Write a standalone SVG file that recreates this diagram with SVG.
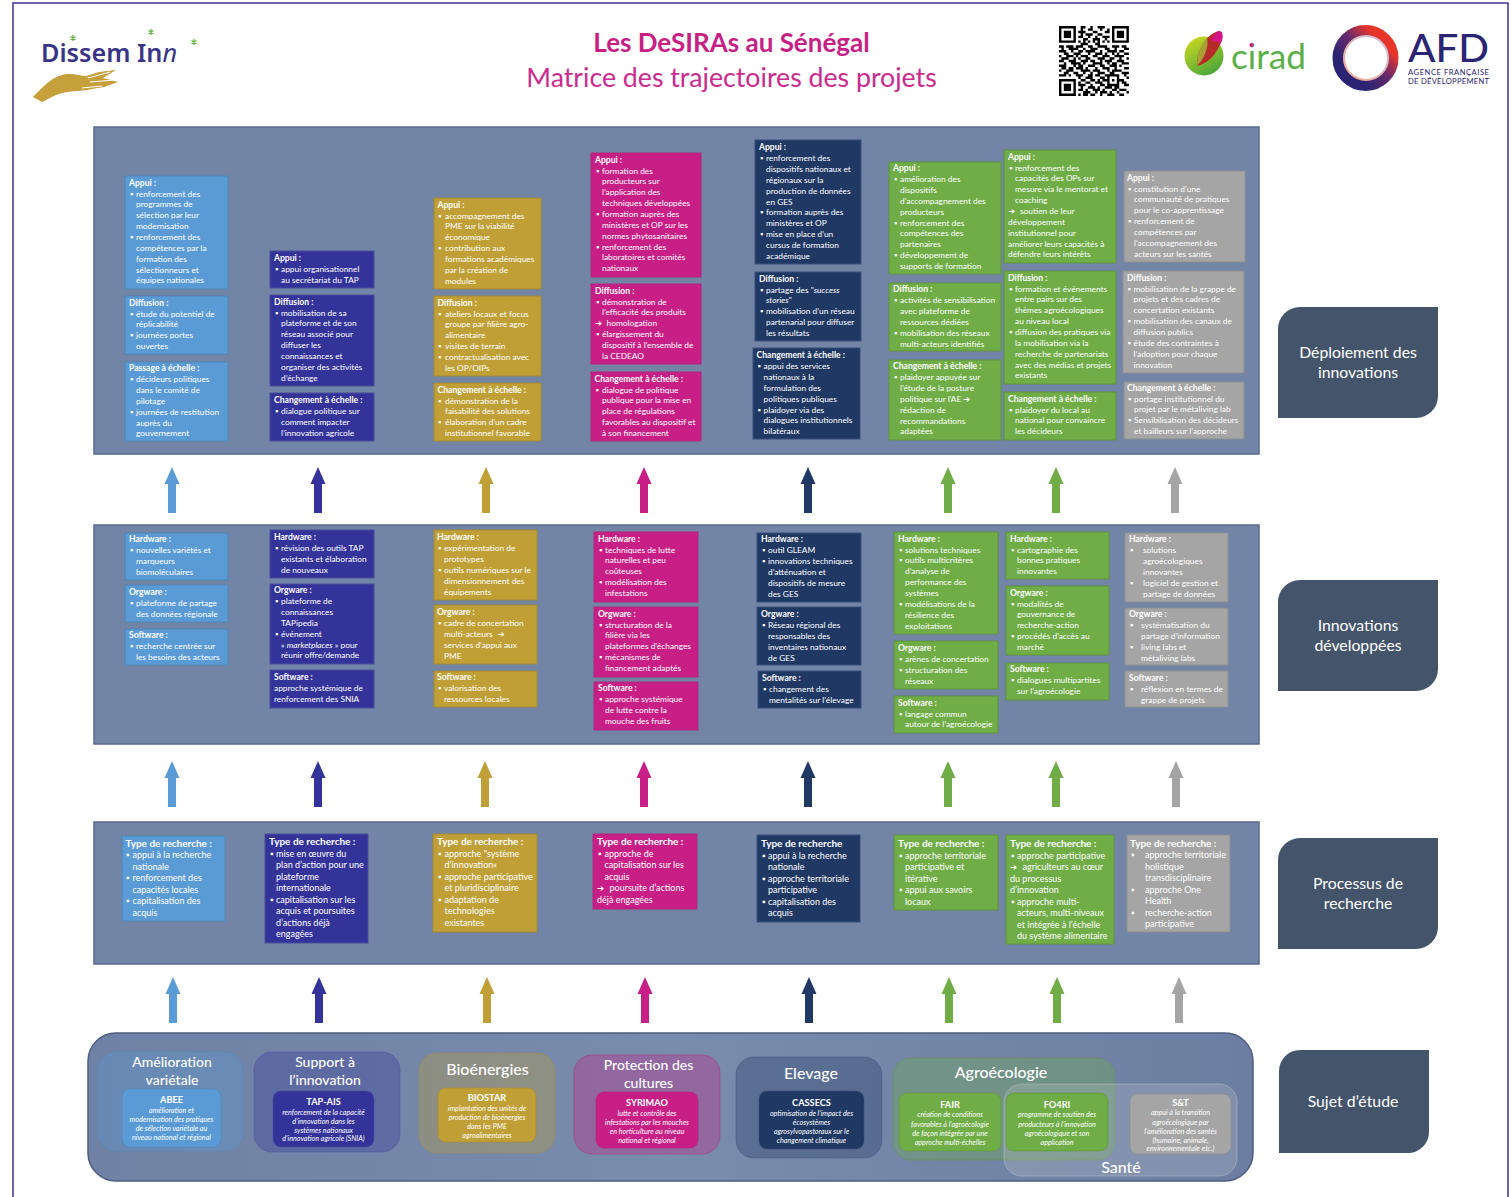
<svg xmlns="http://www.w3.org/2000/svg" width="1511" height="1197" viewBox="0 0 1511 1197">
<style>
text{font-family:Lato,"DejaVu Sans",sans-serif;fill:#fff;font-size:8.35px}
#row-deploiement text,#row-innovations text,#row-recherche text{transform:translateY(-.7px)}
.h{font-weight:700;font-size:8.6px}
.i{font-style:italic}
.a{font-family:"DejaVu Sans",sans-serif;font-weight:700;font-size:8.5px}
.r3 text{font-size:9px}
.r3 .h{font-size:10px}
.c1{fill:#5b9bd5;stroke:#4f86b8}
.c2{fill:#333399;stroke:#4a4f9a}
.c3{fill:#bf9f36;stroke:#a38a35}
.c4{fill:#c71f85;stroke:#b0267f}
.c5{fill:#1f3864;stroke:#3a4f7c}
.c6{fill:#70ad47;stroke:#5f9440}
.c8{fill:#a5a5a5;stroke:#8f8f8f}
.panel{fill:#7385a7;stroke:#5a6a8c;stroke-width:1.5}
.grp{fill-opacity:.33;stroke-opacity:.45}
.inner{stroke-opacity:.6}
.ttl{font-size:14px;text-anchor:middle;font-weight:500}
.big{font-size:16px}
.nm{font-size:9.2px;font-weight:700;text-anchor:middle}
.de{font-size:7.2px;font-style:italic;text-anchor:middle}
.lab{fill:#44546a}
.labt{font-size:15.8px;text-anchor:middle}
</style>
<defs>
<path id="up" d="M0 0L7.5 17H4V46H-4V17H-7.5Z"/>
<linearGradient id="bot" x1="0" x2="1" y1="0" y2="0"><stop offset="0" stop-color="#6f81a4"/><stop offset=".5" stop-color="#7a8cad"/><stop offset="1" stop-color="#6c7fa2"/></linearGradient>
<linearGradient id="ring" x1="0" y1="1" x2="1" y2="0"><stop offset=".25" stop-color="#2a2472"/><stop offset=".55" stop-color="#6a2a6c"/><stop offset=".8" stop-color="#e8352a"/></linearGradient>
<linearGradient id="ring2" x1="1" y1="0" x2="0" y2="1"><stop offset="0" stop-color="#c9c5e4"/><stop offset="1" stop-color="#f6a58c"/></linearGradient>
<linearGradient id="cir" x1="0" y1="0" x2=".6" y2="1"><stop offset="0" stop-color="#d8dd1c"/><stop offset="1" stop-color="#4ea83a"/></linearGradient>
<g id="star"><path d="M0-3V3M-2.6-1.500L2.600 1.500M-2.600 1.500L2.600-1.500" stroke="#62b33f" stroke-width="1.300" fill="none"/></g>
</defs>

<rect x="13" y="3" width="1495" height="1210" fill="#fff" stroke="#3b3392" stroke-width="1.5"/>

<g id="logo-dissem">
<text x="41" y="62" style="font-family:'Noto Sans',sans-serif;font-size:25px;font-weight:600;fill:#3a3486" textLength="136" lengthAdjust="spacingAndGlyphs">Dissem In<tspan style="font-style:italic;font-family:'Noto Sans',sans-serif;font-size:25px;font-weight:400;fill:#3a3486">n</tspan></text>
<use href="#star" x="73" y="38"/><use href="#star" x="151" y="32"/><use href="#star" x="194" y="42"/>
<path d="M33 97C42 88 50 78 62 75C72 72 80 76 86 76L99 72L116 70L103 78L118 82L104 87L92 89C78 92 68 90 56 95L42 102Z" fill="#c5a03b"/>
<path d="M90 82L114 80M88 78L110 72M82 88L102 86" stroke="#fff" stroke-width="1" fill="none"/>
</g>

<g id="title">
<text x="731.500" y="52" text-anchor="middle" style="font-size:26px;font-weight:700;fill:#c71f85">Les DeSIRAs au Sénégal</text>
<text x="731.500" y="87" text-anchor="middle" style="font-size:26.700px;fill:#cc2a8e">Matrice des trajectoires des projets</text>
</g>

<g id="logo-qr" transform="translate(1059 26) scale(2.41)">
<path fill-rule="evenodd" d="M0 0h7v7h-7zM1 1v5h5v-5zM2 2h3v3h-3zM22 0h7v7h-7zM23 1v5h5v-5zM24 2h3v3h-3zM0 22h7v7h-7zM1 23v5h5v-5zM2 24h3v3h-3z"/>
<path stroke="#000" fill="none" d="M9 .5h2M13 .5h1M16 .5h3M9 1.5h1M12 1.5h2M17 1.5h1M20 1.5h1M8 2.5h3M14 2.5h2M19 2.5h2M9 3.5h1M11 3.5h3M16 3.5h2M8 4.5h2M12 4.5h1M15 4.5h1M18 4.5h3M10 5.5h2M14 5.5h3M19 5.5h1M8 6.5h1M10 6.5h1M12 6.5h1M14 6.5h1M16 6.5h1M18 6.5h1M20 6.5h1M9 7.5h3M15 7.5h2M0 8.5h2M3 8.5h3M7 8.5h3M12 8.5h2M16 8.5h4M22 8.5h3M26 8.5h2M1 9.5h1M4 9.5h4M10 9.5h1M13 9.5h3M19 9.5h2M23 9.5h1M27 9.5h2M0 10.5h3M5 10.5h1M8 10.5h2M11 10.5h4M17 10.5h1M20 10.5h4M25 10.5h2M2 11.5h2M6 11.5h3M12 11.5h1M15 11.5h3M19 11.5h1M22 11.5h1M24 11.5h1M27 11.5h2M0 12.5h1M3 12.5h3M7 12.5h1M9 12.5h3M14 12.5h2M18 12.5h3M23 12.5h4M1 13.5h3M6 13.5h1M8 13.5h1M11 13.5h2M16 13.5h3M21 13.5h2M25 13.5h1M28 13.5h1M0 14.5h2M4 14.5h3M9 14.5h3M13 14.5h2M17 14.5h1M19 14.5h3M24 14.5h3M2 15.5h1M5 15.5h4M10 15.5h1M14 15.5h4M20 15.5h1M22 15.5h2M26 15.5h3M0 16.5h3M6 16.5h1M8 16.5h2M12 16.5h3M17 16.5h2M21 16.5h3M25 16.5h1M1 17.5h2M4 17.5h2M7 17.5h3M11 17.5h1M15 17.5h1M18 17.5h3M23 17.5h1M27 17.5h2M0 18.5h1M3 18.5h3M9 18.5h4M14 18.5h3M20 18.5h1M22 18.5h4M2 19.5h2M6 19.5h2M10 19.5h1M13 19.5h1M16 19.5h3M21 19.5h2M26 19.5h3M0 20.5h3M4 20.5h1M7 20.5h3M12 20.5h2M15 20.5h2M19 20.5h6M27 20.5h1M8 21.5h1M11 21.5h3M17 21.5h2M20 21.5h1M24 21.5h1M28 21.5h1M9 22.5h2M13 22.5h2M16 22.5h1M18 22.5h3M22 22.5h1M24 22.5h3M8 23.5h1M11 23.5h2M15 23.5h3M20 23.5h1M24 23.5h1M26 23.5h2M8 24.5h3M13 24.5h1M17 24.5h2M20 24.5h5M27 24.5h2M9 25.5h1M12 25.5h3M16 25.5h1M19 25.5h3M23 25.5h2M8 26.5h2M11 26.5h1M14 26.5h3M18 26.5h1M22 26.5h2M25 26.5h3M10 27.5h3M15 27.5h1M17 27.5h3M21 27.5h1M24 27.5h1M28 27.5h1M8 28.5h1M10 28.5h2M13 28.5h2M17 28.5h1M20 28.5h3M25 28.5h2"/>
</g>

<g id="logo-cirad">
<circle cx="1204" cy="56" r="19.5" fill="url(#cir)"/>
<path d="M1197 66C1197 50 1206 34 1219 31C1224 31 1223 40 1219 47C1214 57 1206 64 1197 66Z" fill="#b62a2a"/>
<path d="M1211 40C1214 35 1217 31.500 1219 31C1224 31 1223 40 1221 43C1218 42 1214 41 1211 40Z" fill="#d5158a"/>
<path d="M1197 66C1197 54 1201 44 1207 38C1209 46 1205 58 1197 66Z" fill="#a9a033"/>
<text x="1231" y="69" style="font-size:34px;fill:#5bb048" textLength="75" lengthAdjust="spacingAndGlyphs">cirad</text>
<circle cx="1251.500" cy="45" r="2" fill="#d5158a"/>
</g>

<g id="logo-afd">
<circle cx="1365.500" cy="58" r="27.500" fill="none" stroke="url(#ring)" stroke-width="11"/>
<circle cx="1366" cy="58" r="22" fill="#fff" stroke="url(#ring2)" stroke-width="2"/>
<text x="1408" y="62" style="font-size:39px;font-weight:500;fill:#2a2472" textLength="81" lengthAdjust="spacingAndGlyphs">AFD</text>
<text x="1408" y="75" style="font-size:7.600px;fill:#2a2472" textLength="81">AGENCE FRANÇAISE</text>
<text x="1408" y="84" style="font-size:7.600px;fill:#2a2472" textLength="81">DE DÉVELOPPEMENT</text>
</g>

<rect id="panel-deploiement" class="panel" x="94" y="127" width="1165" height="327"/>
<rect id="panel-innovations" class="panel" x="94" y="525" width="1165" height="219"/>
<rect id="panel-recherche" class="panel" x="94" y="822" width="1165" height="142"/>

<g id="row-deploiement">
<g id="d1-appui"><rect class="c1" x="125" y="176" width="103" height="113"/><text y="186.500"><tspan x="129" class="h">Appui :</tspan><tspan x="130" dy="10.850">▪</tspan><tspan x="136">renforcement des</tspan><tspan x="136" dy="10.850">programmes de</tspan><tspan x="136" dy="10.850">sélection par leur</tspan><tspan x="136" dy="10.850">modernisation</tspan><tspan x="130" dy="10.850">▪</tspan><tspan x="136">renforcement des</tspan><tspan x="136" dy="10.850">compétences par la</tspan><tspan x="136" dy="10.850">formation des</tspan><tspan x="136" dy="10.850">sélectionneurs et</tspan><tspan x="136" dy="10.850">équipes nationales</tspan></text></g>
<g id="d1-diffusion"><rect class="c1" x="125" y="296" width="103" height="58"/><text y="306.500"><tspan x="129" class="h">Diffusion :</tspan><tspan x="130" dy="10.850">▪</tspan><tspan x="136">étude du potentiel de</tspan><tspan x="136" dy="10.850">réplicabilité</tspan><tspan x="130" dy="10.850">▪</tspan><tspan x="136">journées portes</tspan><tspan x="136" dy="10.850">ouvertes</tspan></text></g>
<g id="d1-echelle"><rect class="c1" x="125" y="362" width="103" height="79"/><text y="372"><tspan x="129" class="h">Passage à échelle :</tspan><tspan x="130" dy="10.850">▪</tspan><tspan x="136">décideurs politiques</tspan><tspan x="136" dy="10.850">dans le comité de</tspan><tspan x="136" dy="10.850">pilotage</tspan><tspan x="130" dy="10.850">▪</tspan><tspan x="136">journées de restitution</tspan><tspan x="136" dy="10.850">auprès du</tspan><tspan x="136" dy="10.850">gouvernement</tspan></text></g>

<g id="d2-appui"><rect class="c2" x="270" y="251" width="104" height="37"/><text y="262"><tspan x="274" class="h">Appui :</tspan><tspan x="275" dy="10.850">▪</tspan><tspan x="281">appui organisationnel</tspan><tspan x="281" dy="10.850">au secrétariat du TAP</tspan></text></g>
<g id="d2-diffusion"><rect class="c2" x="270" y="295" width="104" height="91"/><text y="305.500"><tspan x="274" class="h">Diffusion :</tspan><tspan x="275" dy="10.850">▪</tspan><tspan x="281">mobilisation de sa</tspan><tspan x="281" dy="10.850">plateforme et de son</tspan><tspan x="281" dy="10.850">réseau associé pour</tspan><tspan x="281" dy="10.850">diffuser les</tspan><tspan x="281" dy="10.850">connaissances et</tspan><tspan x="281" dy="10.850">organiser des activités</tspan><tspan x="281" dy="10.850">d’échange</tspan></text></g>
<g id="d2-echelle"><rect class="c2" x="270" y="393" width="104" height="48"/><text y="404"><tspan x="274" class="h">Changement à échelle :</tspan><tspan x="275" dy="10.850">▪</tspan><tspan x="281">dialogue politique sur</tspan><tspan x="281" dy="10.850">comment impacter</tspan><tspan x="281" dy="10.850">l’innovation agricole</tspan></text></g>

<g id="d3-appui"><rect class="c3" x="434" y="198" width="107" height="91"/><text y="208.500"><tspan x="437.500" class="h">Appui :</tspan><tspan x="438" dy="10.850">▪</tspan><tspan x="445">accompagnement des</tspan><tspan x="445" dy="10.850">PME sur la viabilité</tspan><tspan x="445" dy="10.850">économique</tspan><tspan x="438" dy="10.850">▪</tspan><tspan x="445">contribution aux</tspan><tspan x="445" dy="10.850">formations académiques</tspan><tspan x="445" dy="10.850">par la création de</tspan><tspan x="445" dy="10.850">modules</tspan></text></g>
<g id="d3-diffusion"><rect class="c3" x="434" y="296" width="107" height="80"/><text y="306.500"><tspan x="437.500" class="h">Diffusion :</tspan><tspan x="438" dy="10.850">▪</tspan><tspan x="445">ateliers locaux et focus</tspan><tspan x="445" dy="10.850">groupe par filière agro-</tspan><tspan x="445" dy="10.850">alimentaire</tspan><tspan x="438" dy="10.850">▪</tspan><tspan x="445">visites de terrain</tspan><tspan x="438" dy="10.850">▪</tspan><tspan x="445">contractualisation avec</tspan><tspan x="445" dy="10.850">les OP/OIPs</tspan></text></g>
<g id="d3-echelle"><rect class="c3" x="434" y="383" width="107" height="58"/><text y="393.500"><tspan x="437.500" class="h">Changement à échelle :</tspan><tspan x="438" dy="10.850">▪</tspan><tspan x="445">démonstration de la</tspan><tspan x="445" dy="10.850">faisabilité des solutions</tspan><tspan x="438" dy="10.850">▪</tspan><tspan x="445">élaboration d’un cadre</tspan><tspan x="445" dy="10.850">institutionnel favorable</tspan></text></g>

<g id="d4-appui"><rect class="c4" x="591" y="153" width="110" height="124"/><text y="163.500"><tspan x="595" class="h">Appui :</tspan><tspan x="596" dy="10.850">▪</tspan><tspan x="602">formation des</tspan><tspan x="602" dy="10.850">producteurs sur</tspan><tspan x="602" dy="10.850">l’application des</tspan><tspan x="602" dy="10.850">techniques développées</tspan><tspan x="596" dy="10.850">▪</tspan><tspan x="602">formation auprès des</tspan><tspan x="602" dy="10.850">ministères et OP sur les</tspan><tspan x="602" dy="10.850">normes phytosanitaires</tspan><tspan x="596" dy="10.850">▪</tspan><tspan x="602">renforcement des</tspan><tspan x="602" dy="10.850">laboratoires et comités</tspan><tspan x="602" dy="10.850">nationaux</tspan></text></g>
<g id="d4-diffusion"><rect class="c4" x="591" y="284" width="110" height="80"/><text y="294.500"><tspan x="595" class="h">Diffusion :</tspan><tspan x="596" dy="10.850">▪</tspan><tspan x="602">démonstration de</tspan><tspan x="602" dy="10.850">l’efficacité des produits</tspan><tspan x="595" dy="10.850" class="a">➔</tspan><tspan x="606.500">homologation</tspan><tspan x="596" dy="10.850">▪</tspan><tspan x="602">élargissement du</tspan><tspan x="602" dy="10.850">dispositif à l’ensemble de</tspan><tspan x="602" dy="10.850">la CEDEAO</tspan></text></g>
<g id="d4-echelle"><rect class="c4" x="591" y="372" width="110" height="69"/><text y="382.500"><tspan x="594.500" class="h">Changement à échelle :</tspan><tspan x="595.500" dy="10.850">▪</tspan><tspan x="602">dialogue de politique</tspan><tspan x="602" dy="10.850">publique pour la mise en</tspan><tspan x="602" dy="10.850">place de régulations</tspan><tspan x="602" dy="10.850">favorables au dispositif et</tspan><tspan x="602" dy="10.850">à son financement</tspan></text></g>

<g id="d5-appui"><rect class="c5" x="755" y="140" width="106" height="124"/><text y="151"><tspan x="759" class="h">Appui :</tspan><tspan x="760" dy="10.850">▪</tspan><tspan x="766">renforcement des</tspan><tspan x="766" dy="10.850">dispositifs nationaux et</tspan><tspan x="766" dy="10.850">régionaux sur la</tspan><tspan x="766" dy="10.850">production de données</tspan><tspan x="766" dy="10.850">en GES</tspan><tspan x="760" dy="10.850">▪</tspan><tspan x="766">formation auprès des</tspan><tspan x="766" dy="10.850">ministères et OP</tspan><tspan x="760" dy="10.850">▪</tspan><tspan x="766">mise en place d’un</tspan><tspan x="766" dy="10.850">cursus de formation</tspan><tspan x="766" dy="10.850">académique</tspan></text></g>
<g id="d5-diffusion"><rect class="c5" x="755" y="272" width="106" height="69"/><text y="282.500"><tspan x="759" class="h">Diffusion :</tspan><tspan x="760" dy="10.850">▪</tspan><tspan x="766">partage des "</tspan><tspan class="i">success</tspan><tspan x="766" dy="10.850" class="i">stories</tspan><tspan>"</tspan><tspan x="760" dy="10.850">▪</tspan><tspan x="766">mobilisation d’un réseau</tspan><tspan x="766" dy="10.850">partenarial pour diffuser</tspan><tspan x="766" dy="10.850">les résultats</tspan></text></g>
<g id="d5-echelle"><rect class="c5" x="753" y="348" width="107" height="91"/><text y="359"><tspan x="756.500" class="h">Changement à échelle :</tspan><tspan x="757.500" dy="10.850">▪</tspan><tspan x="763.500">appui des services</tspan><tspan x="763.500" dy="10.850">nationaux à la</tspan><tspan x="763.500" dy="10.850">formulation des</tspan><tspan x="763.500" dy="10.850">politiques publiques</tspan><tspan x="757.500" dy="10.850">▪</tspan><tspan x="763.500">plaidoyer via des</tspan><tspan x="763.500" dy="10.850">dialogues institutionnels</tspan><tspan x="763.500" dy="10.850">bilatéraux</tspan></text></g>

<g id="d6-appui"><rect class="c6" x="889" y="162" width="112" height="112"/><text y="172"><tspan x="893" class="h">Appui :</tspan><tspan x="894" dy="10.850">▪</tspan><tspan x="900">amélioration des</tspan><tspan x="900" dy="10.850">dispositifs</tspan><tspan x="900" dy="10.850">d’accompagnement des</tspan><tspan x="900" dy="10.850">producteurs</tspan><tspan x="894" dy="10.850">▪</tspan><tspan x="900">renforcement des</tspan><tspan x="900" dy="10.850">compétences des</tspan><tspan x="900" dy="10.850">partenaires</tspan><tspan x="894" dy="10.850">▪</tspan><tspan x="900">développement de</tspan><tspan x="900" dy="10.850">supports de formation</tspan></text></g>
<g id="d6-diffusion"><rect class="c6" x="889" y="283" width="112" height="68"/><text y="293"><tspan x="893" class="h">Diffusion :</tspan><tspan x="894" dy="10.850">▪</tspan><tspan x="900">activités de sensibilisation</tspan><tspan x="900" dy="10.850">avec plateforme de</tspan><tspan x="900" dy="10.850">ressources dédiées</tspan><tspan x="894" dy="10.850">▪</tspan><tspan x="900">mobilisation des réseaux</tspan><tspan x="900" dy="10.850">multi-acteurs identifiés</tspan></text></g>
<g id="d6-echelle"><rect class="c6" x="889" y="360" width="112" height="80"/><text y="370"><tspan x="893" class="h">Changement à échelle :</tspan><tspan x="894" dy="10.850">▪</tspan><tspan x="900">plaidoyer appuyée sur</tspan><tspan x="900" dy="10.850">l’étude de la posture</tspan><tspan x="900" dy="10.850">politique sur l’AE </tspan><tspan x="963" class="a">➔</tspan><tspan x="900" dy="10.850">rédaction de</tspan><tspan x="900" dy="10.850">recommandations</tspan><tspan x="900" dy="10.850">adaptées</tspan></text></g>

<g id="d7-appui"><rect class="c6" x="1004" y="150" width="112" height="113"/><text y="160.500"><tspan x="1008" class="h">Appui :</tspan><tspan x="1009" dy="10.850">▪</tspan><tspan x="1015">renforcement des</tspan><tspan x="1015" dy="10.850">capacités des OPs sur</tspan><tspan x="1015" dy="10.850">mesure via le mentorat et</tspan><tspan x="1015" dy="10.850">coaching</tspan><tspan x="1008" dy="10.850" class="a">➔</tspan><tspan x="1020">soutien de leur</tspan><tspan x="1008" dy="10.850">développement</tspan><tspan x="1008" dy="10.850">institutionnel pour</tspan><tspan x="1008" dy="10.850">améliorer leurs capacités à</tspan><tspan x="1008" dy="10.850">défendre leurs intérêts</tspan></text></g>
<g id="d7-diffusion"><rect class="c6" x="1004" y="271" width="112" height="113"/><text y="281.500"><tspan x="1008" class="h">Diffusion :</tspan><tspan x="1009" dy="10.850">▪</tspan><tspan x="1015">formation et événements</tspan><tspan x="1015" dy="10.850">entre pairs sur des</tspan><tspan x="1015" dy="10.850">thèmes agroécologiques</tspan><tspan x="1015" dy="10.850">au niveau local</tspan><tspan x="1009" dy="10.850">▪</tspan><tspan x="1015">diffusion des pratiques via</tspan><tspan x="1015" dy="10.850">la mobilisation via la</tspan><tspan x="1015" dy="10.850">recherche de partenariats</tspan><tspan x="1015" dy="10.850">avec des médias et projets</tspan><tspan x="1015" dy="10.850">existants</tspan></text></g>
<g id="d7-echelle"><rect class="c6" x="1004" y="392" width="112" height="48"/><text y="402.500"><tspan x="1008" class="h">Changement à échelle :</tspan><tspan x="1009" dy="10.850">▪</tspan><tspan x="1015">plaidoyer du local au</tspan><tspan x="1015" dy="10.850">national pour convaincre</tspan><tspan x="1015" dy="10.850">les décideurs</tspan></text></g>

<g id="d8-appui"><rect class="c8" x="1124" y="171" width="121" height="91"/><text y="181.500"><tspan x="1127" class="h">Appui :</tspan><tspan x="1128" dy="10.850">▪</tspan><tspan x="1134">constitution d’une</tspan><tspan x="1134" dy="10.850">communauté de pratiques</tspan><tspan x="1134" dy="10.850">pour le co-apprentissage</tspan><tspan x="1128" dy="10.850">▪</tspan><tspan x="1134">renforcement de</tspan><tspan x="1134" dy="10.850">compétences par</tspan><tspan x="1134" dy="10.850">l’accompagnement des</tspan><tspan x="1134" dy="10.850">acteurs sur les santés</tspan></text></g>
<g id="d8-diffusion"><rect class="c8" x="1123" y="271" width="121" height="102"/><text y="281.500"><tspan x="1127" class="h">Diffusion :</tspan><tspan x="1127.500" dy="10.850">▪</tspan><tspan x="1133.500">mobilisation de la grappe de</tspan><tspan x="1133.500" dy="10.850">projets et des cadres de</tspan><tspan x="1133.500" dy="10.850">concertation existants</tspan><tspan x="1127.500" dy="10.850">▪</tspan><tspan x="1133.500">mobilisation des canaux de</tspan><tspan x="1133.500" dy="10.850">diffusion publics</tspan><tspan x="1127.500" dy="10.850">▪</tspan><tspan x="1133.500">étude des contraintes à</tspan><tspan x="1133.500" dy="10.850">l’adoption pour chaque</tspan><tspan x="1133.500" dy="10.850">innovation</tspan></text></g>
<g id="d8-echelle"><rect class="c8" x="1124" y="382" width="120" height="57"/><text y="391.500"><tspan x="1127" class="h">Changement à échelle :</tspan><tspan x="1128" dy="10.850">▪</tspan><tspan x="1134">portage institutionnel du</tspan><tspan x="1134" dy="10.850">projet par le métaliving lab</tspan><tspan x="1128" dy="10.850">▪</tspan><tspan x="1134">Sensibilisation des décideurs</tspan><tspan x="1134" dy="10.850">et bailleurs sur l’approche</tspan></text></g>
</g>

<g id="row-innovations">
<g id="i1-hardware"><rect class="c1" x="125" y="533" width="103" height="47"/><text y="543"><tspan x="129" class="h">Hardware :</tspan><tspan x="130" dy="10.850">▪</tspan><tspan x="136">nouvelles variétés et</tspan><tspan x="136" dy="10.850">marqueurs</tspan><tspan x="136" dy="10.850">biomoléculaires</tspan></text></g>
<g id="i1-orgware"><rect class="c1" x="125" y="585" width="103" height="37"/><text y="596"><tspan x="129" class="h">Orgware :</tspan><tspan x="130" dy="10.850">▪</tspan><tspan x="136">plateforme de partage</tspan><tspan x="136" dy="10.850">des données régionale</tspan></text></g>
<g id="i1-software"><rect class="c1" x="125" y="629" width="103" height="36"/><text y="639"><tspan x="129" class="h">Software :</tspan><tspan x="130" dy="10.850">▪</tspan><tspan x="136">recherche centrée sur</tspan><tspan x="136" dy="10.850">les besoins des acteurs</tspan></text></g>

<g id="i2-hardware"><rect class="c2" x="270" y="530" width="104" height="48"/><text y="541"><tspan x="274" class="h">Hardware :</tspan><tspan x="275" dy="10.850">▪</tspan><tspan x="281">révision des outils TAP</tspan><tspan x="281" dy="10.850">existants et élaboration</tspan><tspan x="281" dy="10.850">de nouveaux</tspan></text></g>
<g id="i2-orgware"><rect class="c2" x="270" y="584" width="104" height="80"/><text y="594"><tspan x="274" class="h">Orgware :</tspan><tspan x="275" dy="10.850">▪</tspan><tspan x="281">plateforme de</tspan><tspan x="281" dy="10.850">connaissances</tspan><tspan x="281" dy="10.850">TAPipedia</tspan><tspan x="275" dy="10.850">▪</tspan><tspan x="281">événement</tspan><tspan x="281" dy="10.850">« </tspan><tspan class="i">marketplaces</tspan><tspan> » pour</tspan><tspan x="281" dy="10.850">réunir offre/demande</tspan></text></g>
<g id="i2-software"><rect class="c2" x="270" y="670" width="104" height="38"/><text y="681"><tspan x="274" class="h">Software :</tspan><tspan x="274" dy="10.850">approche systémique de</tspan><tspan x="274" dy="10.850">renforcement des SNIA</tspan></text></g>

<g id="i3-hardware"><rect class="c3" x="434" y="530" width="103" height="70"/><text y="541"><tspan x="437" class="h">Hardware :</tspan><tspan x="438" dy="10.850">▪</tspan><tspan x="444">expérimentation de</tspan><tspan x="444" dy="10.850">prototypes</tspan><tspan x="438" dy="10.850">▪</tspan><tspan x="444">outils numériques sur le</tspan><tspan x="444" dy="10.850">dimensionnement des</tspan><tspan x="444" dy="10.850">équipements</tspan></text></g>
<g id="i3-orgware"><rect class="c3" x="434" y="605" width="103" height="59"/><text y="616"><tspan x="437" class="h">Orgware :</tspan><tspan x="438" dy="10.850">▪</tspan><tspan x="444">cadre de concertation</tspan><tspan x="444" dy="10.850">multi-acteurs </tspan><tspan x="497.500" class="a">➔</tspan><tspan x="444" dy="10.850">services d’appui aux</tspan><tspan x="444" dy="10.850">PME</tspan></text></g>
<g id="i3-software"><rect class="c3" x="434" y="671" width="103" height="36"/><text y="681"><tspan x="437" class="h">Software :</tspan><tspan x="438" dy="10.850">▪</tspan><tspan x="444">valorisation des</tspan><tspan x="444" dy="10.850">ressources locales</tspan></text></g>

<g id="i4-hardware"><rect class="c4" x="594" y="532" width="104" height="70"/><text y="542.500"><tspan x="598" class="h">Hardware :</tspan><tspan x="599" dy="10.850">▪</tspan><tspan x="605">techniques de lutte</tspan><tspan x="605" dy="10.850">naturelles et peu</tspan><tspan x="605" dy="10.850">coûteuses</tspan><tspan x="599" dy="10.850">▪</tspan><tspan x="605">modélisation des</tspan><tspan x="605" dy="10.850">infestations</tspan></text></g>
<g id="i4-orgware"><rect class="c4" x="594" y="607" width="104" height="70"/><text y="617.500"><tspan x="598" class="h">Orgware :</tspan><tspan x="599" dy="10.850">▪</tspan><tspan x="605">structuration de la</tspan><tspan x="605" dy="10.850">filière via les</tspan><tspan x="605" dy="10.850">plateformes d’échanges</tspan><tspan x="599" dy="10.850">▪</tspan><tspan x="605">mécanismes de</tspan><tspan x="605" dy="10.850">financement adaptés</tspan></text></g>
<g id="i4-software"><rect class="c4" x="594" y="682" width="104" height="48"/><text y="692"><tspan x="598" class="h">Software :</tspan><tspan x="599" dy="10.850">▪</tspan><tspan x="605">approche systémique</tspan><tspan x="605" dy="10.850">de lutte contre la</tspan><tspan x="605" dy="10.850">mouche des fruits</tspan></text></g>

<g id="i5-hardware"><rect class="c5" x="757" y="533" width="104" height="69"/><text y="543"><tspan x="761" class="h">Hardware :</tspan><tspan x="762" dy="10.850">▪</tspan><tspan x="768">outil GLEAM</tspan><tspan x="762" dy="10.850">▪</tspan><tspan x="768">innovations techniques</tspan><tspan x="768" dy="10.850">d’atténuation et</tspan><tspan x="768" dy="10.850">dispositifs de mesure</tspan><tspan x="768" dy="10.850">des GES</tspan></text></g>
<g id="i5-orgware"><rect class="c5" x="757" y="607" width="104" height="58"/><text y="618"><tspan x="761" class="h">Orgware :</tspan><tspan x="762" dy="10.850">▪</tspan><tspan x="768">Réseau régional des</tspan><tspan x="768" dy="10.850">responsables des</tspan><tspan x="768" dy="10.850">inventaires nationaux</tspan><tspan x="768" dy="10.850">de GES</tspan></text></g>
<g id="i5-software"><rect class="c5" x="758" y="671" width="103" height="37"/><text y="682"><tspan x="762" class="h">Software :</tspan><tspan x="763" dy="10.850">▪</tspan><tspan x="769">changement des</tspan><tspan x="769" dy="10.850">mentalités sur l’élevage</tspan></text></g>

<g id="i6-hardware"><rect class="c6" x="894" y="532" width="104" height="102"/><text y="542.500"><tspan x="898" class="h">Hardware :</tspan><tspan x="899" dy="10.850">▪</tspan><tspan x="905">solutions techniques</tspan><tspan x="899" dy="10.850">▪</tspan><tspan x="905">outils multicritères</tspan><tspan x="905" dy="10.850">d’analyse de</tspan><tspan x="905" dy="10.850">performance des</tspan><tspan x="905" dy="10.850">systèmes</tspan><tspan x="899" dy="10.850">▪</tspan><tspan x="905">modélisations de la</tspan><tspan x="905" dy="10.850">résilience des</tspan><tspan x="905" dy="10.850">exploitations</tspan></text></g>
<g id="i6-orgware"><rect class="c6" x="894" y="641" width="104" height="48"/><text y="652"><tspan x="898" class="h">Orgware :</tspan><tspan x="899" dy="10.850">▪</tspan><tspan x="905">arènes de concertation</tspan><tspan x="899" dy="10.850">▪</tspan><tspan x="905">structuration des</tspan><tspan x="905" dy="10.850">réseaux</tspan></text></g>
<g id="i6-software"><rect class="c6" x="894" y="696" width="104" height="37"/><text y="706.500"><tspan x="898" class="h">Software :</tspan><tspan x="899" dy="10.850">▪</tspan><tspan x="905">langage commun</tspan><tspan x="905" dy="10.850">autour de l’agroécologie</tspan></text></g>

<g id="i7-hardware"><rect class="c6" x="1006" y="532" width="103" height="47"/><text y="542.500"><tspan x="1010" class="h">Hardware :</tspan><tspan x="1011" dy="10.850">▪</tspan><tspan x="1017">cartographie des</tspan><tspan x="1017" dy="10.850">bonnes pratiques</tspan><tspan x="1017" dy="10.850">innovantes</tspan></text></g>
<g id="i7-orgware"><rect class="c6" x="1006" y="586" width="103" height="69"/><text y="596.500"><tspan x="1010" class="h">Orgware :</tspan><tspan x="1011" dy="10.850">▪</tspan><tspan x="1017">modalités de</tspan><tspan x="1017" dy="10.850">gouvernance de</tspan><tspan x="1017" dy="10.850">recherche-action</tspan><tspan x="1011" dy="10.850">▪</tspan><tspan x="1017">procédés d’accès au</tspan><tspan x="1017" dy="10.850">marché</tspan></text></g>
<g id="i7-software"><rect class="c6" x="1006" y="663" width="103" height="37"/><text y="673"><tspan x="1010" class="h">Software :</tspan><tspan x="1011" dy="10.850">▪</tspan><tspan x="1017">dialogues multipartites</tspan><tspan x="1017" dy="10.850">sur l’agroécologie</tspan></text></g>

<g id="i8-hardware"><rect class="c8" x="1125" y="533" width="103" height="69"/><text y="543"><tspan x="1129" class="h">Hardware :</tspan><tspan x="1130" dy="10.850">▪</tspan><tspan x="1143">solutions</tspan><tspan x="1143" dy="10.850">agroécologiques</tspan><tspan x="1143" dy="10.850">innovantes</tspan><tspan x="1130" dy="10.850">▪</tspan><tspan x="1143">logiciel de gestion et</tspan><tspan x="1143" dy="10.850">partage de données</tspan></text></g>
<g id="i8-orgware"><rect class="c8" x="1125" y="608" width="103" height="57"/><text y="618"><tspan x="1129" class="h">Orgware :</tspan><tspan x="1130" dy="10.850">▪</tspan><tspan x="1141">systématisation du</tspan><tspan x="1141" dy="10.850">partage d’information</tspan><tspan x="1130" dy="10.850">▪</tspan><tspan x="1141">living labs et</tspan><tspan x="1141" dy="10.850">métaliving labs</tspan></text></g>
<g id="i8-software"><rect class="c8" x="1125" y="671" width="103" height="36"/><text y="682"><tspan x="1129" class="h">Software :</tspan><tspan x="1130" dy="10.850">▪</tspan><tspan x="1141">réflexion en termes de</tspan><tspan x="1141" dy="10.850">grappe de projets</tspan></text></g>
</g>

<g id="row-recherche" class="r3">
<g id="r1"><rect class="c1" x="122" y="836" width="103" height="85"/><text y="847.500"><tspan x="125.500" class="h">Type de recherche :</tspan><tspan x="126" dy="11.500">▪</tspan><tspan x="132.500">appui à la recherche</tspan><tspan x="132.500" dy="11.500">nationale</tspan><tspan x="126" dy="11.500">▪</tspan><tspan x="132.500">renforcement des</tspan><tspan x="132.500" dy="11.500">capacités locales</tspan><tspan x="126" dy="11.500">▪</tspan><tspan x="132.500">capitalisation des</tspan><tspan x="132.500" dy="11.500">acquis</tspan></text></g>
<g id="r2"><rect class="c2" x="265" y="834" width="103" height="109"/><text y="846"><tspan x="269" class="h">Type de recherche :</tspan><tspan x="270" dy="11.500">▪</tspan><tspan x="276">mise en œuvre du</tspan><tspan x="276" dy="11.500">plan d’action pour une</tspan><tspan x="276" dy="11.500">plateforme</tspan><tspan x="276" dy="11.500">internationale</tspan><tspan x="270" dy="11.500">▪</tspan><tspan x="276">capitalisation sur les</tspan><tspan x="276" dy="11.500">acquis et poursuites</tspan><tspan x="276" dy="11.500">d’actions déjà</tspan><tspan x="276" dy="11.500">engagées</tspan></text></g>
<g id="r3"><rect class="c3" x="433" y="834" width="104" height="98"/><text y="846"><tspan x="437" class="h">Type de recherche :</tspan><tspan x="438" dy="11.500">▪</tspan><tspan x="444.500">approche "système</tspan><tspan x="444.500" dy="11.500">d’innovation«</tspan><tspan x="438" dy="11.500">▪</tspan><tspan x="444.500">approche participative</tspan><tspan x="444.500" dy="11.500">et pluridisciplinaire</tspan><tspan x="438" dy="11.500">▪</tspan><tspan x="444.500">adaptation de</tspan><tspan x="444.500" dy="11.500">technologies</tspan><tspan x="444.500" dy="11.500">existantes</tspan></text></g>
<g id="r4"><rect class="c4" x="593" y="834" width="104" height="75"/><text y="846"><tspan x="597" class="h">Type de recherche :</tspan><tspan x="598" dy="11.500">▪</tspan><tspan x="604.500">approche de</tspan><tspan x="604.500" dy="11.500">capitalisation sur les</tspan><tspan x="604.500" dy="11.500">acquis</tspan><tspan x="597" dy="11.500" class="a">➔</tspan><tspan x="609.500">poursuite d’actions</tspan><tspan x="597" dy="11.500">déjà engagées</tspan></text></g>
<g id="r5"><rect class="c5" x="757" y="835" width="103" height="87"/><text y="848"><tspan x="761" class="h">Type de recherche</tspan><tspan x="762" dy="11.500">▪</tspan><tspan x="768">appui à la recherche</tspan><tspan x="768" dy="11.500">nationale</tspan><tspan x="762" dy="11.500">▪</tspan><tspan x="768">approche territoriale</tspan><tspan x="768" dy="11.500">participative</tspan><tspan x="762" dy="11.500">▪</tspan><tspan x="768">capitalisation des</tspan><tspan x="768" dy="11.500">acquis</tspan></text></g>
<g id="r6"><rect class="c6" x="894" y="835" width="104" height="75"/><text y="848"><tspan x="898" class="h">Type de recherche :</tspan><tspan x="899" dy="11.500">▪</tspan><tspan x="905">approche territoriale</tspan><tspan x="905" dy="11.500">participative et</tspan><tspan x="905" dy="11.500">itérative</tspan><tspan x="899" dy="11.500">▪</tspan><tspan x="905">appui aux savoirs</tspan><tspan x="905" dy="11.500">locaux</tspan></text></g>
<g id="r7"><rect class="c6" x="1006" y="835" width="108" height="109"/><text y="848"><tspan x="1010" class="h">Type de recherche :</tspan><tspan x="1011" dy="11.500">▪</tspan><tspan x="1017">approche participative</tspan><tspan x="1010" dy="11.500" class="a">➔</tspan><tspan x="1022.500">agriculteurs au cœur</tspan><tspan x="1010" dy="11.500">du processus</tspan><tspan x="1010" dy="11.500">d’innovation</tspan><tspan x="1011" dy="11.500">▪</tspan><tspan x="1017">approche multi-</tspan><tspan x="1017" dy="11.500">acteurs, multi-niveaux</tspan><tspan x="1017" dy="11.500">et intégrée à l’échelle</tspan><tspan x="1017" dy="11.500">du système alimentaire</tspan></text></g>
<g id="r8"><rect class="c8" x="1127" y="835" width="103" height="97"/><text y="847.500"><tspan x="1130" class="h">Type de recherche :</tspan><tspan x="1131" dy="11.500">▪</tspan><tspan x="1145">approche territoriale</tspan><tspan x="1145" dy="11.500">holistique</tspan><tspan x="1145" dy="11.500">transdisciplinaire</tspan><tspan x="1131" dy="11.500">▪</tspan><tspan x="1145">approche One</tspan><tspan x="1145" dy="11.500">Health</tspan><tspan x="1131" dy="11.500">▪</tspan><tspan x="1145">recherche-action</tspan><tspan x="1145" dy="11.500">participative</tspan></text></g>
</g>

<g id="connectors">
<use href="#up" x="172" y="467" fill="#5b9bd5"/><use href="#up" x="318" y="467" fill="#333399"/><use href="#up" x="486" y="467" fill="#bf9f36"/><use href="#up" x="644" y="467" fill="#c71f85"/><use href="#up" x="808" y="467" fill="#1f3864"/><use href="#up" x="948" y="467" fill="#70ad47"/><use href="#up" x="1056" y="467" fill="#70ad47"/><use href="#up" x="1175" y="467" fill="#a5a5a5"/>
<use href="#up" x="172" y="761" fill="#5b9bd5"/><use href="#up" x="318" y="761" fill="#333399"/><use href="#up" x="485" y="761" fill="#bf9f36"/><use href="#up" x="644" y="761" fill="#c71f85"/><use href="#up" x="808" y="761" fill="#1f3864"/><use href="#up" x="948" y="761" fill="#70ad47"/><use href="#up" x="1056" y="761" fill="#70ad47"/><use href="#up" x="1176" y="761" fill="#a5a5a5"/>
<use href="#up" x="173" y="977" fill="#5b9bd5"/><use href="#up" x="319" y="977" fill="#333399"/><use href="#up" x="487" y="977" fill="#bf9f36"/><use href="#up" x="645" y="977" fill="#c71f85"/><use href="#up" x="809" y="977" fill="#1f3864"/><use href="#up" x="949" y="977" fill="#70ad47"/><use href="#up" x="1057" y="977" fill="#70ad47"/><use href="#up" x="1179" y="977" fill="#a5a5a5"/>
</g>

<g id="row-sujet">
<rect x="88" y="1033" width="1165" height="148" rx="28" fill="url(#bot)" stroke="#4e5e80" stroke-width="1.5"/>

<g id="s-amelioration"><rect class="c1 grp" x="98" y="1052" width="145" height="99" rx="18"/><text class="ttl" x="172" y="1067">Amélioration</text><text class="ttl" x="172" y="1085">variétale</text>
<rect class="c1 inner" x="122" y="1089" width="99" height="58" rx="8"/><text class="nm" x="171.500" y="1103">ABEE</text><text class="de" x="171.500" y="1112.500">amélioration et</text><text class="de" x="171.500" y="1121.500">modernisation des pratiques</text><text class="de" x="171.500" y="1131">de sélection variétale au</text><text class="de" x="171.500" y="1139.500">niveau national et régional</text></g>

<g id="s-support"><rect class="c2 grp" x="254" y="1052" width="146" height="100" rx="18"/><text class="ttl" x="325" y="1067">Support à</text><text class="ttl" x="325" y="1085">l’innovation</text>
<rect class="c2 inner" x="273" y="1091" width="101" height="56" rx="8"/><text class="nm" x="323.500" y="1104.500">TAP-AIS</text><text class="de" x="323.500" y="1114.500">renforcement de la capacité</text><text class="de" x="323.500" y="1123.500">d’innovation dans les</text><text class="de" x="323.500" y="1132.500">systèmes nationaux</text><text class="de" x="323.500" y="1141">d’innovation agricole (SNIA)</text></g>

<g id="s-bioenergies"><rect class="c3 grp" x="419" y="1053" width="136" height="100" rx="18"/><text class="ttl big" x="487.500" y="1075">Bioénergies</text>
<rect class="c3 inner" x="438" y="1088" width="98" height="54" rx="8"/><text class="nm" x="487" y="1100.500">BIOSTAR</text><text class="de" x="487" y="1110.500">implantation des unités de</text><text class="de" x="487" y="1119.500">production de bioénergies</text><text class="de" x="487" y="1128.500">dans les PME</text><text class="de" x="487" y="1137.500">agroalimentaires</text></g>

<g id="s-protection"><rect class="c4 grp" x="574" y="1055" width="146" height="99" rx="18"/><text class="ttl" x="648.500" y="1070">Protection des</text><text class="ttl" x="648.500" y="1088">cultures</text>
<rect class="c4 inner" x="596" y="1092" width="102" height="56" rx="8"/><text class="nm" x="647" y="1105.500">SYRIMAO</text><text class="de" x="647" y="1115.500">lutte et contrôle des</text><text class="de" x="647" y="1124.500">infestations par les mouches</text><text class="de" x="647" y="1134">en horticulture au niveau</text><text class="de" x="647" y="1143">national et régional</text></g>

<g id="s-elevage"><rect class="c5 grp" x="736" y="1057" width="146" height="101" rx="18"/><text class="ttl big" x="811" y="1078.500">Elevage</text>
<rect class="c5 inner" x="759" y="1091" width="105" height="58" rx="8"/><text class="nm" x="811.500" y="1105.500">CASSECS</text><text class="de" x="811.500" y="1115.500">optimisation de l’impact des</text><text class="de" x="811.500" y="1124.500">écosystèmes</text><text class="de" x="811.500" y="1134">agrosylvopastoraux sur le</text><text class="de" x="811.500" y="1143">changement climatique</text></g>

<g id="s-agroecologie"><rect class="c6 grp" x="893" y="1058" width="222" height="102" rx="18"/><text class="ttl big" x="1001" y="1077.500">Agroécologie</text></g>
<g id="s-sante"><rect x="1004" y="1084" width="233" height="92" rx="18" fill="#d9d9d9" fill-opacity=".2" stroke="#d9d9d9" stroke-opacity=".35"/><text class="ttl big" x="1121" y="1172.500">Santé</text></g>

<g id="s-fair"><rect class="c6 inner" x="899" y="1093" width="102" height="58" rx="8"/><text class="nm" x="950" y="1108">FAIR</text><text class="de" x="950" y="1116.500">création de conditions</text><text class="de" x="950" y="1126.500">favorables à l’agroécologie</text><text class="de" x="950" y="1135.500">de façon intégrée par une</text><text class="de" x="950" y="1144.500">approche multi-échelles</text></g>
<g id="s-fo4ri"><rect class="c6 inner" x="1006" y="1093" width="102" height="58" rx="8"/><text class="nm" x="1057" y="1108">FO4RI</text><text class="de" x="1057" y="1116.500">programme de soutien des</text><text class="de" x="1057" y="1126.500">producteurs à l’innovation</text><text class="de" x="1057" y="1135.500">agroécologique et son</text><text class="de" x="1057" y="1144.500">application</text></g>
<g id="s-st"><rect class="c8 inner" x="1130" y="1094" width="101" height="60" rx="8"/><text class="nm" x="1180.500" y="1105.500">S&amp;T</text><text class="de" x="1180.500" y="1115">appui à la transition</text><text class="de" x="1180.500" y="1124.500">agroécologique par</text><text class="de" x="1180.500" y="1133.500">l’amélioration des santés</text><text class="de" x="1180.500" y="1142.500">(humaine, animale,</text><text class="de" x="1180.500" y="1151">environnementale etc.)</text></g>
</g>

<g id="label-deploiement"><path class="lab" d="M1300 307H1438V396A22 22 0 0 1 1416 418H1278V329A22 22 0 0 1 1300 307Z"/><text class="labt" x="1358" y="358">Déploiement des</text><text class="labt" x="1358" y="378">innovations</text></g>
<g id="label-innovations"><path class="lab" d="M1300 580H1438V669A22 22 0 0 1 1416 691H1278V602A22 22 0 0 1 1300 580Z"/><text class="labt" x="1358" y="631">Innovations</text><text class="labt" x="1358" y="651">développées</text></g>
<g id="label-recherche"><path class="lab" d="M1300 838H1438V927A22 22 0 0 1 1416 949H1278V860A22 22 0 0 1 1300 838Z"/><text class="labt" x="1358" y="889">Processus de</text><text class="labt" x="1358" y="909">recherche</text></g>
<g id="label-sujet"><path class="lab" d="M1300 1050H1429V1132A21 21 0 0 1 1408 1153H1279V1071A21 21 0 0 1 1300 1050Z"/><text class="labt" x="1353" y="1107">Sujet d’étude</text></g>
</svg>
